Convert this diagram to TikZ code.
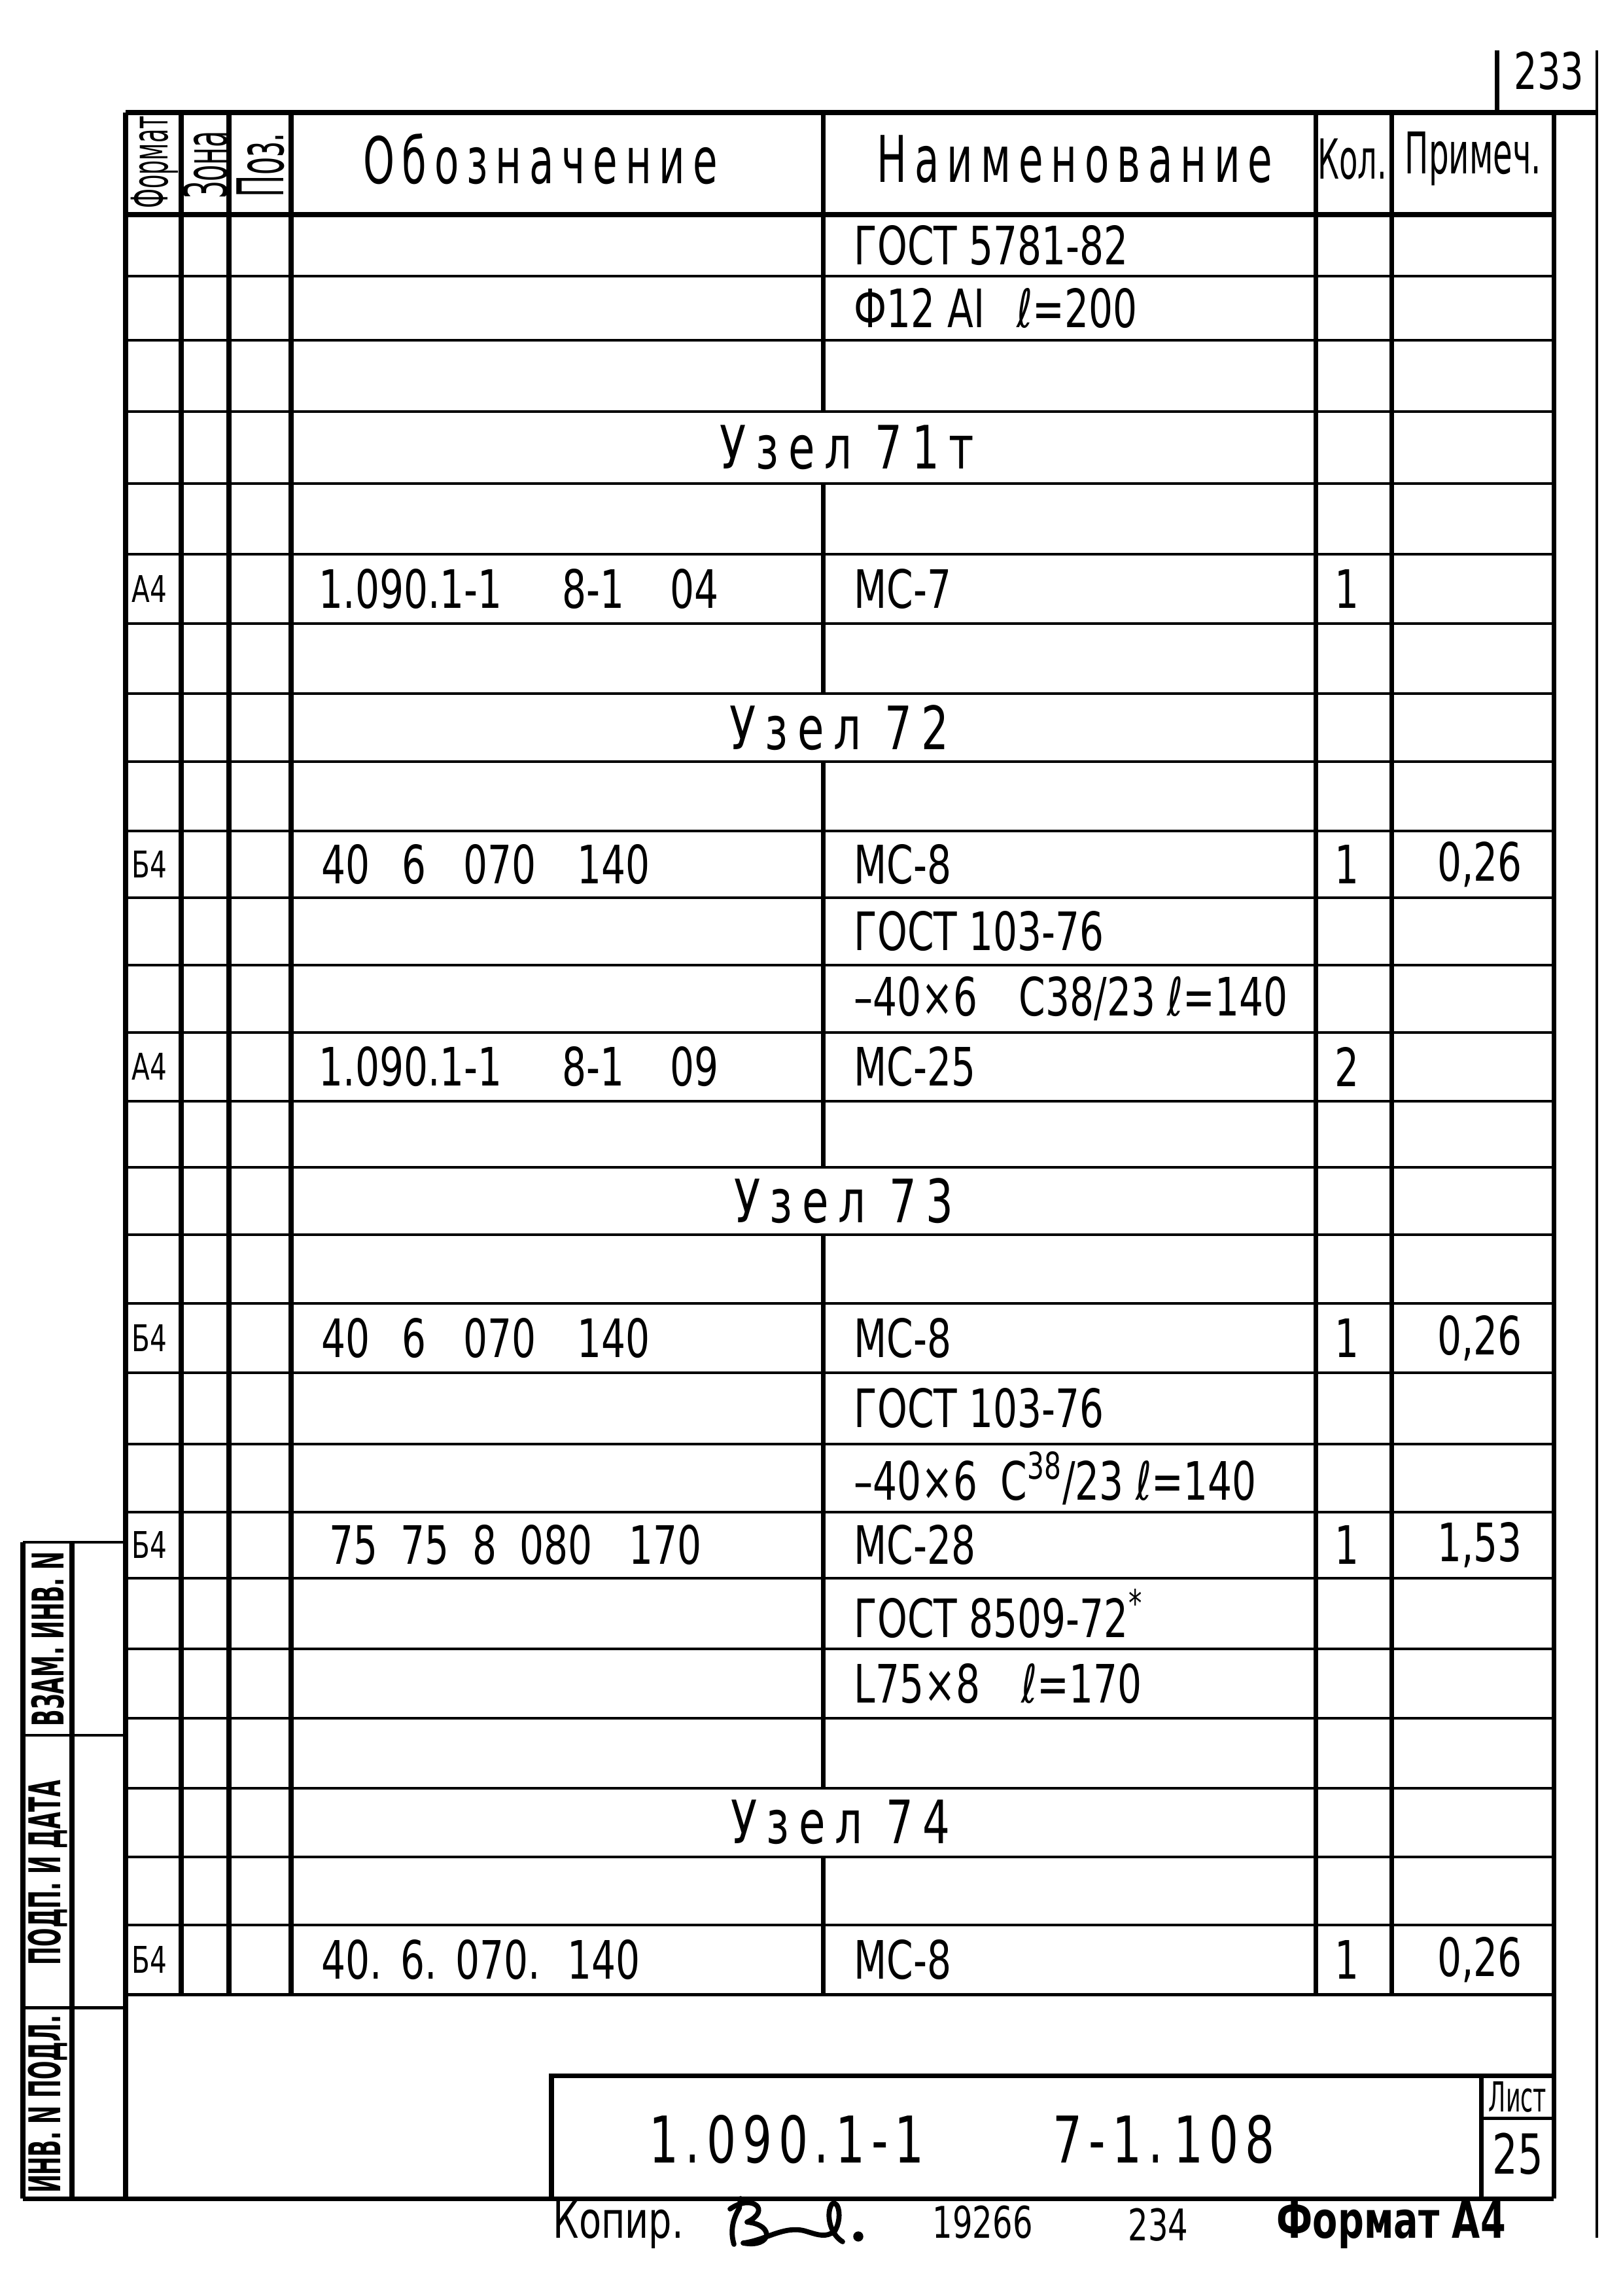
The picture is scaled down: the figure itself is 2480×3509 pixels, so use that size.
\documentclass[tikz,border=0pt]{standalone}
\usepackage{fontspec}
\setmainfont{DejaVu Sans}[FakeStretch=0.72]
\newfontfamily\narrowfont{DejaVu Sans}[FakeStretch=0.55]
\newfontfamily\stripfont{DejaVu Sans}[FakeStretch=0.5]
\newfontfamily\narrowerfont{DejaVu Sans}[FakeStretch=0.45]
\newfontfamily\hdrfont{DejaVu Sans}[FakeStretch=0.62,LetterSpace=12]
\newfontfamily\spacedfont{DejaVu Sans}[FakeStretch=0.72,LetterSpace=16]
\newfontfamily\titlefont{DejaVu Sans}[FakeStretch=0.72,LetterSpace=10]
\begin{document}
\begin{tikzpicture}[x=0.01cm,y=-0.01cm,
  vl/.style={line width=2pt},
  hl/.style={line width=1.4pt},
  fl/.style={line width=1.2pt},
  cl/.style={inner sep=0pt,anchor=west,font=\fontsize{23}{25}\selectfont},
  cc/.style={inner sep=0pt,anchor=center,font=\fontsize{23}{25}\selectfont},
  fm/.style={inner sep=0pt,anchor=west,font=\fontsize{16}{18}\selectfont},
  uz/.style={inner sep=0pt,anchor=center,font=\spacedfont\fontsize{26}{28}\selectfont},
  hd/.style={inner sep=0pt,anchor=center,font=\hdrfont\fontsize{28}{30}\selectfont},
  hn/.style={inner sep=0pt,anchor=center,font=\narrowfont\fontsize{25}{27}\selectfont},
  rot/.style={inner sep=0pt,anchor=center,rotate=90,font=\narrowerfont\fontsize{22}{24}\selectfont},
  strip/.style={inner sep=0pt,anchor=center,rotate=90,font=\stripfont\bfseries\fontsize{19}{21}\selectfont},
  bt/.style={inner sep=0pt,anchor=west,font=\fontsize{22}{24}\selectfont},
  sig/.style={line width=2.2pt,line cap=round,line join=round}
]
\useasboundingbox (0,0) rectangle (2480,3509);
\fill[white] (0,0) rectangle (2480,3509);

% ---------- grid ----------
\foreach \yy in {328,422,520,629,739,847,953,1060,1164,1270,1372,1475,1578,1683,1784,1887,1992,2098,2207,2311,2412,2520,2626,2733,2838,2942,3048}
  \draw[hl] (192,\yy) -- (2375,\yy);
\draw[vl] (192,172) -- (2441,172);
\draw[vl] (192,328) -- (2375,328);
\draw[vl] (192,172) -- (192,3360);
\foreach \xx in {277,350,445,2011,2127} \draw[vl] (\xx,172) -- (\xx,3048);
\draw[vl] (2375,172) -- (2375,3360);
\foreach \a/\b in {172/629,739/1060,1164/1784,1887/2733,2838/3048}
  \draw[vl] (1258,\a) -- (1258,\b);

% ---------- frame ----------
\draw[fl] (2441,77) -- (2441,3420);
\draw[vl] (2288,77) -- (2288,172);
\draw[vl] (35,3360) -- (2375,3360);
\draw[vl] (843,3360) -- (843,3172) -- (2375,3172);
\draw[vl] (2264,3172) -- (2264,3360);
\draw[hl] (2264,3237) -- (2375,3237);
\draw[vl] (35,2357) -- (35,3360);
\draw[vl] (110,2357) -- (110,3360);
\foreach \yy in {2357,2652,3068} \draw[hl] (35,\yy) -- (192,\yy);

% ---------- header ----------
\node (pg) [inner sep=0pt,font=\fontsize{22}{24}\selectfont] at (2368,108) {233};
\node[rot] (hfmt) at (236,248) {Формат};
\node[rot,font=\narrowerfont\fontsize{26}{28}\selectfont] (hzona) at (314,252) {Зона};
\node[rot,font=\narrowerfont\fontsize{28}{30}\selectfont] (hpoz) at (398,252) {Поз.};
\node[hd] (hobo) at (826,243) {Обозначение};
\node[hd] (hnaim) at (1643,243) {Наименование};
\node[hn,font=\narrowfont\fontsize{24}{26}\selectfont] (hkol) at (2067,243) {Кол.};
\node[hn] (hprim) at (2252,243) {Примеч.};

% ---------- rows ----------
\node[cl] (n1) at (1305,375) {ГОСТ 5781-82};
\node[cl] (n2) at (1305,471) {Ф12 АI\hspace{14pt}ℓ=200};
\node[uz] (u71) at (1295,684) {Узел 71т};

\node[fm] (f6) at (201,900) {А4};
\node[cl] (d6) at (487,900) {1.090.1-1\hspace{26pt}8-1\hspace{20pt}04};
\node[cl] (n6) at (1305,900) {МС-7};
\node[cc] (k6) at (2059,900) {1};

\node[uz] (u72) at (1283,1112) {Узел 72};

\node[fm] (f10) at (201,1321) {Б4};
\node[cl] (d10) at (491,1321) {40\hspace{14pt}6\hspace{16pt}070\hspace{18pt}140};
\node[cl] (n10) at (1305,1321) {МС-8};
\node[cc] (k10) at (2059,1321) {1};
\node[cc] (p10) at (2262,1321) {0,26};
\node[cl] (n11) at (1305,1423) {ГОСТ 103-76};
\node[cl] (n12) at (1305,1526) {–40×6\hspace{18pt}С38/23 ℓ=140};

\node[fm] (f13) at (201,1630) {А4};
\node[cl] (d13) at (487,1630) {1.090.1-1\hspace{26pt}8-1\hspace{20pt}09};
\node[cl] (n13) at (1305,1630) {МС-25};
\node[cc] (k13) at (2059,1630) {2};

\node[uz] (u73) at (1290,1835) {Узел 73};

\node[fm] (f17) at (201,2045) {Б4};
\node[cl] (d17) at (491,2045) {40\hspace{14pt}6\hspace{16pt}070\hspace{18pt}140};
\node[cl] (n17) at (1305,2045) {МС-8};
\node[cc] (k17) at (2059,2045) {1};
\node[cc] (p17) at (2262,2045) {0,26};
\node[cl] (n18) at (1305,2152) {ГОСТ 103-76};
\node[cl] (n19) at (1305,2259) {–40×6\hspace{10pt}С\textsuperscript{38}/23 ℓ=140};

\node[fm] (f20) at (201,2361) {Б4};
\node[cl] (d20) at (503,2361) {75\hspace{10pt}75\hspace{10pt}8\hspace{10pt}080\hspace{16pt}170};
\node[cl] (n20) at (1305,2361) {МС-28};
\node[cc] (k20) at (2059,2361) {1};
\node[cc] (p20) at (2262,2361) {1,53};
\node[cl] (n21) at (1305,2466) {ГОСТ 8509-72\textsuperscript{*}};
\node[cl] (n22) at (1305,2573) {L75×8\hspace{18pt}ℓ=170};

\node[uz] (u74) at (1285,2785) {Узел 74};

\node[fm] (f26) at (201,2995) {Б4};
\node[cl] (d26) at (491,2995) {40.\hspace{8pt}6.\hspace{8pt}070.\hspace{12pt}140};
\node[cl] (n26) at (1305,2995) {МС-8};
\node[cc] (k26) at (2059,2995) {1};
\node[cc] (p26) at (2262,2995) {0,26};

% ---------- left strip ----------
\node[strip] (s1) at (73,2505) {ВЗАМ. ИНВ. N};
\node[strip] (s2) at (73,2862) {ПОДП. И ДАТА};
\node[strip] (s3) at (73,3216) {ИНВ. N ПОДЛ.};

% ---------- title block ----------
\node[inner sep=0pt,font=\titlefont\fontsize{28}{30}\selectfont] (ttl) at (1471,3270) {1.090.1-1\hspace{56pt}7-1.\,108};
\node[inner sep=0pt,font=\narrowfont\fontsize{18}{20}\selectfont] (lst) at (2320,3205) {Лист};
\node[inner sep=0pt,font=\fontsize{24}{26}\selectfont] (lnum) at (2320,3292) {25};

% ---------- bottom line ----------
\node[bt] (kop) at (845,3400) {Копир.};
\node[bt,font=\fontsize{19}{21}\selectfont] (b1) at (1425,3396) {19266};
\node[bt,font=\fontsize{19}{21}\selectfont] (b2) at (1724,3400) {234};
\node[bt,font=\bfseries\fontsize{22}{24}\selectfont] (fa4) at (1951,3400) {Формат А4};

% signature
\draw[sig] (1132,3360) -- (1130,3375) .. controls (1120,3392) and (1116,3410) .. (1122,3430);
\draw[sig] (1116,3376) .. controls (1150,3352) and (1180,3378) .. (1142,3396)
  .. controls (1185,3400) and (1180,3436) .. (1136,3428)
  .. controls (1170,3424) and (1200,3400) .. (1232,3410)
  .. controls (1252,3416) and (1262,3420) .. (1276,3410)
  .. controls (1288,3390) and (1282,3362) .. (1272,3368)
  .. controls (1262,3382) and (1268,3414) .. (1288,3426);
\fill (1312,3418) circle[radius=2.2pt];
\end{tikzpicture}
\end{document}
